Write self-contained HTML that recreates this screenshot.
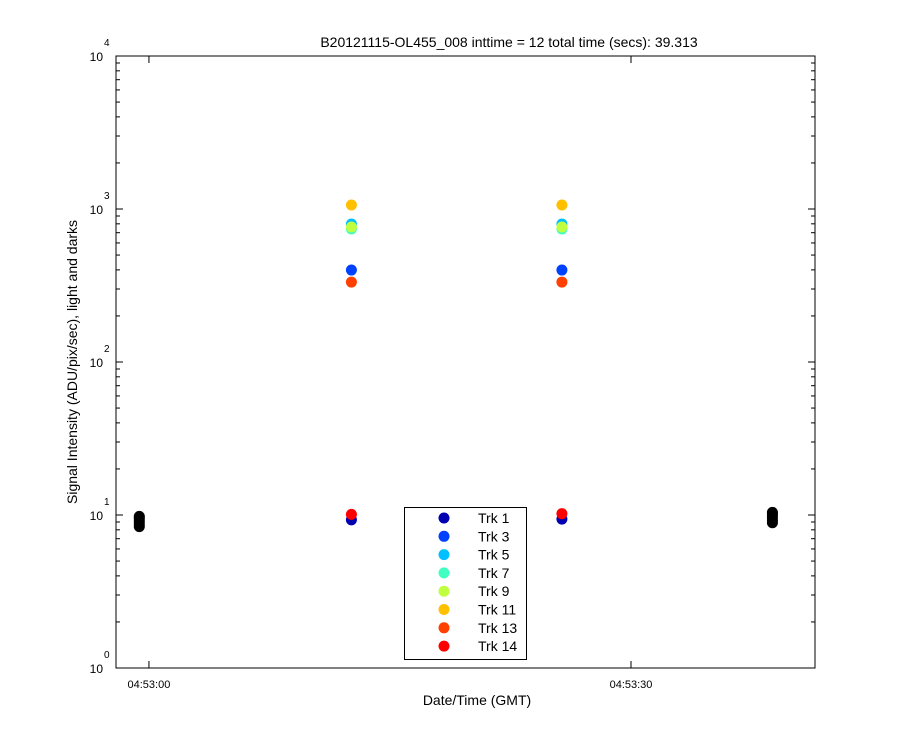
<!DOCTYPE html>
<html><head><meta charset="utf-8"><style>
body{margin:0;background:#fff;font-family:"Liberation Sans",sans-serif}
svg text{font-family:"Liberation Sans",sans-serif}
</style></head><body>
<svg id="c" width="900" height="750"></svg>
<script>
const seriesNames=["Trk 1","Trk 3","Trk 5","Trk 7","Trk 9","Trk 11","Trk 13","Trk 14"];
const seriesColors=["#0000b0","#0040ff","#00c0ff","#40ffc0","#c0ff40","#ffc000","#ff4000","#ff0000"];
const times=[12.6,25.7];
const seriesValues=[[9.3,9.4],[399,399],[798,798],[740,740],[763,763],[1062,1062],[333,333],[10.1,10.2]];
const darkTimes=[-0.6,38.8];
const darkValues=[[8.4,8.7,9.0,9.3,9.6,9.8],[8.9,9.2,9.6,9.9,10.2,10.4]];
const xTickVals=[0,30];
const xTickLabels=["04:53:00","04:53:30"];
const yDecades=[0,1,2,3,4];
const L=116,R=815,T=56,B=668;
const xMin=-2.05,xMax=41.45;
const x=t=>L+(t-xMin)/(xMax-xMin)*(R-L);
const y=v=>B-(Math.log10(v)-0)/4*(B-T);
const svg=document.getElementById('c');const NS="http://www.w3.org/2000/svg";
function mk(tag,a,p){const e=document.createElementNS(NS,tag);for(const k in a)e.setAttribute(k,a[k]);(p||svg).appendChild(e);return e;}
const frame=mk('rect',{x:L,y:T,width:R-L,height:B-T,fill:'#fff',stroke:'#000','stroke-width':1});


yDecades.forEach(d=>{
  const yy=y(Math.pow(10,d));
  mk('line',{x1:L,x2:L+7,y1:yy,y2:yy,stroke:'#000'});
  mk('line',{x1:R,x2:R-7,y1:yy,y2:yy,stroke:'#000'});
  const t=mk('text',{x:L-13,y:yy+5,'font-size':12,'text-anchor':'end'});t.textContent='10';
  
  
  const s=mk('text',{x:L-12,y:yy-10,'font-size':10,'text-anchor':'start'});s.textContent=String(d);
  if(d<4)for(let m=2;m<=9;m++){const ym=y(m*Math.pow(10,d));
    mk('line',{x1:L,x2:L+4,y1:ym,y2:ym,stroke:'#000'});mk('line',{x1:R,x2:R-4,y1:ym,y2:ym,stroke:'#000'});}
});
xTickVals.forEach((v,i)=>{const xx=x(v);
  mk('line',{x1:xx,x2:xx,y1:B,y2:B-7,stroke:'#000'});mk('line',{x1:xx,x2:xx,y1:T,y2:T+7,stroke:'#000'});
  const t=mk('text',{x:xx,y:B+20,'font-size':11,'text-anchor':'middle'});t.textContent=xTickLabels[i];
  
  
});
darkTimes.forEach((tt,i)=>darkValues[i].forEach(v=>{
  const c=mk('circle',{cx:x(tt),cy:y(v),r:5.5,fill:'#000'});
  
  
}));
seriesValues.forEach((vals,si)=>vals.forEach((v,j)=>{
  const c=mk('circle',{cx:x(times[j]),cy:y(v),r:5.5,fill:seriesColors[si]});
  
  
}));
const tl=mk('text',{x:509,y:47,'font-size':14,'text-anchor':'middle'});tl.textContent='B20121115-OL455_008 inttime = 12 total time (secs): 39.313';


const xl=mk('text',{x:477,y:705,'font-size':14,'text-anchor':'middle'});xl.textContent='Date/Time (GMT)';


const yl=mk('text',{x:0,y:0,'font-size':14,'text-anchor':'middle',transform:'translate(77,362) rotate(-90)'});yl.textContent='Signal Intensity (ADU/pix/sec), light and darks';


const lg=mk('g',{});


mk('rect',{x:404.5,y:507.5,width:122,height:152,fill:'#fff',stroke:'#000'},lg);
seriesNames.forEach((n,i)=>{const yy=518+i*18.3;
  mk('circle',{cx:444,cy:yy,r:5.5,fill:seriesColors[i]},lg);
  const t=mk('text',{x:478,y:yy+5,'font-size':14},lg);t.textContent=n;
  
  
});
</script>
</body></html>
